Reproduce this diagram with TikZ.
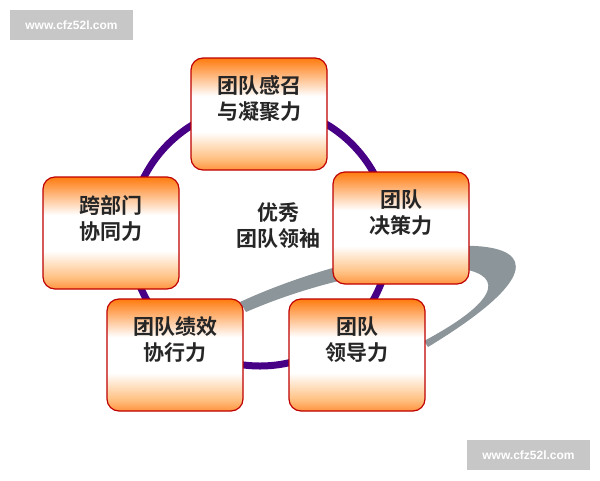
\documentclass[tikz,border=0pt]{standalone}
\usepackage{fontspec}
\newfontfamily\cjk{Noto Sans CJK SC}[BoldFont={* Bold}]
\setsansfont{Liberation Sans}
\pgfdeclareverticalshading{boxshade}{100bp}{
 color(0bp)=(orange!85!red); color(20bp)=(orange!80!red); color(30bp)=(orange!50!white); color(42bp)=(white); color(58bp)=(white);
 color(76bp)=(orange!90!red); color(100bp)=(red!55!orange)}
\begin{document}
\begin{tikzpicture}[x=1pt,y=-1pt,
 box/.style={draw=red!75!black,line width=1.2pt,rounded corners=12pt,minimum width=136pt,minimum height=112pt,
   shading=boxshade},
 lbl/.style={font=\cjk\bfseries\fontsize{21}{26}\selectfont,align=center,text=black!85},
 wm/.style={fill=black!22,text=white,font=\sffamily\bfseries\fontsize{12}{14}\selectfont,minimum width=123pt,minimum height=30pt,inner sep=0pt}]
\useasboundingbox (0,0) rectangle (600,480);
\fill[white] (0,0) rectangle (600,480);
\coordinate (c) at (260,236);
\draw[line width=7pt,color=violet!70!blue!80!black] (c) circle (130);
\fill[gray!50!cyan!20!gray] (240,302) .. controls (400,228) and (650,212) .. (428,347)
  -- (424,341) .. controls (590,252) and (400,245) .. (246,312) -- cycle;
\node[box] (t) at (259,114) {};
\node[box] (l) at (111,233) {};
\node[box] (r) at (401,228) {};
\node[box] (bl) at (175,355) {};
\node[box] (br) at (357,355) {};
\node[lbl] at ([yshift=15pt]t.center) {团队感召\\与凝聚力};
\node[lbl] at ([yshift=15pt]l.center) {跨部门\\协同力};
\node[lbl] at ([yshift=15pt]r.center) {团队\\决策力};
\node[lbl] at ([yshift=15pt]bl.center) {团队绩效\\协行力};
\node[lbl] at ([yshift=15pt]br.center) {团队\\领导力};
\node[lbl] (m) at (278,226) {优秀\\团队领袖};
\node[wm] (w1) at (71.5,25) {www.cfz52l.com};
\node[wm] (w2) at (528.5,455) {www.cfz52l.com};
\end{tikzpicture}
\end{document}
